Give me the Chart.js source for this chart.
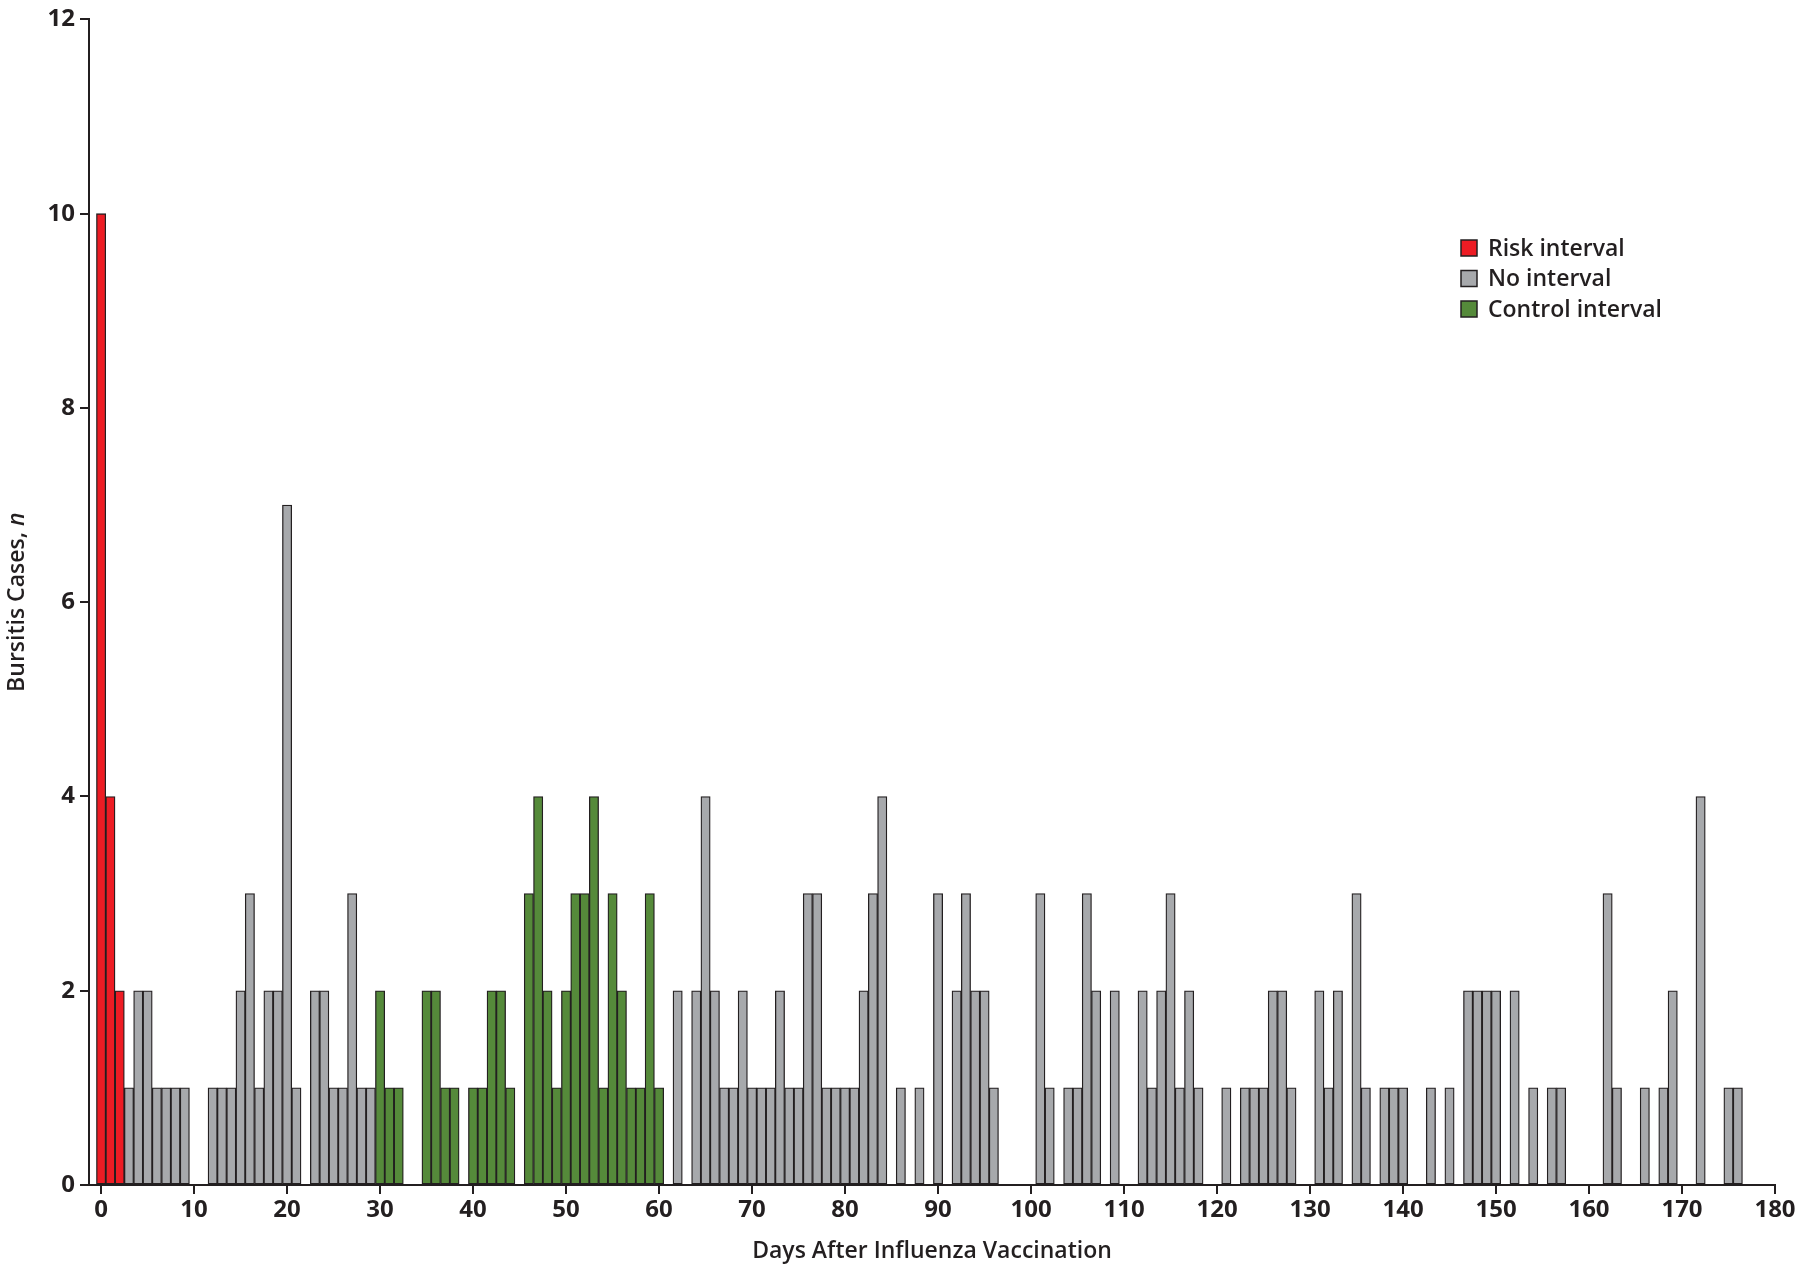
<!DOCTYPE html>
<html>
<head>
<meta charset="utf-8">
<title>Bursitis cases after influenza vaccination</title>
<script src="https://cdn.jsdelivr.net/npm/chart.js@4.4.1/dist/chart.umd.min.js"></script>
<style>
    html, body { margin: 0; padding: 0; background: #fff; }
    #wrap { width: 1800px; height: 1270px; position: relative; }
</style>
</head>
<body>
<div id="wrap"><canvas id="bursitisChart"></canvas></div>
<script>
// days after vaccination and number of cases, one pair of arrays per interval
const riskDays  = [0, 1, 2];
const riskCases = [10, 4, 2];

const controlDays  = [30, 31, 32, 35, 36, 37, 38, 40, 41, 42, 43, 44, 46, 47, 48, 49, 50, 51, 52, 53, 54, 55, 56, 57, 58, 59, 60];
const controlCases = [2, 1, 1, 2, 2, 1, 1, 1, 1, 2, 2, 1, 3, 4, 2, 1, 2, 3, 3, 4, 1, 3, 2, 1, 1, 3, 1];

const noDays = [3, 4, 5, 6, 7, 8, 9, 12, 13, 14, 15, 16, 17, 18, 19, 20, 21, 23, 24, 25, 26, 27, 28, 29,
    62, 64, 65, 66, 67, 68, 69, 70, 71, 72, 73, 74, 75, 76, 77, 78, 79, 80, 81, 82, 83, 84, 86, 88, 90, 92, 93, 94, 95, 96,
    101, 102, 104, 105, 106, 107, 109, 112, 113, 114, 115, 116, 117, 118, 121, 123, 124, 125, 126, 127, 128, 131, 132, 133, 135, 136, 138, 139, 140,
    143, 145, 147, 148, 149, 150, 152, 154, 156, 157, 162, 163, 166, 168, 169, 172, 175, 176];
const noCases = [1, 2, 2, 1, 1, 1, 1, 1, 1, 1, 2, 3, 1, 2, 2, 7, 1, 2, 2, 1, 1, 3, 1, 1,
    2, 2, 4, 2, 1, 1, 2, 1, 1, 1, 2, 1, 1, 3, 3, 1, 1, 1, 1, 2, 3, 4, 1, 1, 3, 2, 3, 2, 2, 1,
    3, 1, 1, 1, 3, 2, 2, 2, 1, 2, 3, 1, 2, 1, 1, 1, 1, 1, 2, 2, 1, 2, 1, 2, 3, 1, 1, 1, 1,
    1, 1, 2, 2, 2, 2, 2, 1, 1, 1, 3, 1, 1, 1, 2, 4, 1, 1];

const xTicks = [0, 10, 20, 30, 40, 50, 60, 70, 80, 90, 100, 110, 120, 130, 140, 150, 160, 170, 180];
const yTicks = [0, 2, 4, 6, 8, 10, 12];

const seriesLabels = ["Risk interval", "No interval", "Control interval"];

(function () {
    "use strict";

    const INK  = "#231f20";
    const FONT = "'Open Sans', 'Noto Sans', sans-serif";

    function toPoints(days, cases) {
        return days.map((d, i) => ({ x: d, y: cases[i] }));
    }

    function barSet(label, days, cases, color) {
        return {
            label: label,
            data: toPoints(days, cases),
            backgroundColor: color,
            borderColor: INK,
            borderWidth: 1.3,
            borderSkipped: false,
            grouped: false,
            barPercentage: 1,
            categoryPercentage: 1
        };
    }

    /* ================= LEGEND (inside plot, top right) ================= */
    const boxLegend = {
        id: "boxLegend",
        afterDraw(chart) {
            const ctx = chart.ctx;
            ctx.save();
            ctx.font = "600 23px " + FONT;
            ctx.textBaseline = "middle";
            chart.data.datasets.forEach((ds, i) => {
                const y = 248 + i * 30.5;
                ctx.fillStyle = ds.backgroundColor;
                ctx.fillRect(1461, y - 8, 16, 16);
                ctx.lineWidth = 1.5;
                ctx.strokeStyle = INK;
                ctx.strokeRect(1461, y - 8, 16, 16);
                ctx.fillStyle = INK;
                ctx.fillText(ds.label, 1488, y + 1);
            });
            ctx.restore();
        }
    };

    /* ================= Y TITLE (with italic n) ================= */
    const yTitle = {
        id: "yTitle",
        afterDraw(chart) {
            const ctx = chart.ctx;
            const area = chart.chartArea;
            const main = "Bursitis Cases, ";
            const fMain = "600 23px " + FONT;
            const fIt = "italic 600 23px " + FONT;
            ctx.save();
            ctx.font = fMain;
            const w1 = ctx.measureText(main).width;
            ctx.font = fIt;
            const w2 = ctx.measureText("n").width;
            ctx.translate(17, (area.top + area.bottom) / 2);
            ctx.rotate(-Math.PI / 2);
            ctx.fillStyle = INK;
            ctx.textBaseline = "middle";
            ctx.textAlign = "left";
            const start = -(w1 + w2) / 2;
            ctx.font = fMain;
            ctx.fillText(main, start, 0);
            ctx.font = fIt;
            ctx.fillText("n", start + w1, 0);
            ctx.restore();
        }
    };

    new Chart(document.getElementById("bursitisChart"), {
        type: "bar",
        data: {
            datasets: [
                barSet(seriesLabels[0], riskDays, riskCases, "#ed1c24"),
                barSet(seriesLabels[1], noDays, noCases, "#a7a9ac"),
                barSet(seriesLabels[2], controlDays, controlCases, "#558a3a")
            ]
        },
        options: {
            responsive: true,
            maintainAspectRatio: false,
            animation: false,
            devicePixelRatio: 1,
            layout: { padding: { top: 15, right: 25, left: 0, bottom: 0 } },
            plugins: {
                legend: { display: false },
                tooltip: { enabled: false }
            },
            scales: {
                x: {
                    type: "linear",
                    min: -1.3,
                    max: 180,
                    offset: false,
                    afterBuildTicks: (scale) => { scale.ticks = xTicks.map(v => ({ value: v })); },
                    afterFit: (scale) => { scale.height = 85; },
                    grid: {
                        offset: false,
                        drawOnChartArea: false,
                        color: INK,
                        tickLength: 9,
                        lineWidth: 2
                    },
                    border: { color: INK, width: 2 },
                    ticks: {
                        color: INK,
                        padding: 2,
                        maxRotation: 0,
                        autoSkip: false,
                        font: { family: FONT, size: 24, weight: "bold" }
                    },
                    title: {
                        display: true,
                        text: "Days After Influenza Vaccination",
                        color: INK,
                        padding: { top: 0, bottom: 5 },
                        font: { family: FONT, size: 23, weight: "600" }
                    }
                },
                y: {
                    min: 0,
                    max: 12,
                    afterBuildTicks: (scale) => { scale.ticks = yTicks.map(v => ({ value: v })); },
                    afterFit: (scale) => { scale.width = 89; },
                    grid: {
                        drawOnChartArea: false,
                        color: INK,
                        tickLength: 9,
                        lineWidth: 2
                    },
                    border: { color: INK, width: 2 },
                    ticks: {
                        color: INK,
                        padding: 5,
                        font: { family: FONT, size: 24, weight: "bold" }
                    }
                }
            }
        },
        plugins: [boxLegend, yTitle]
    });
})();
</script>
</body>
</html>
